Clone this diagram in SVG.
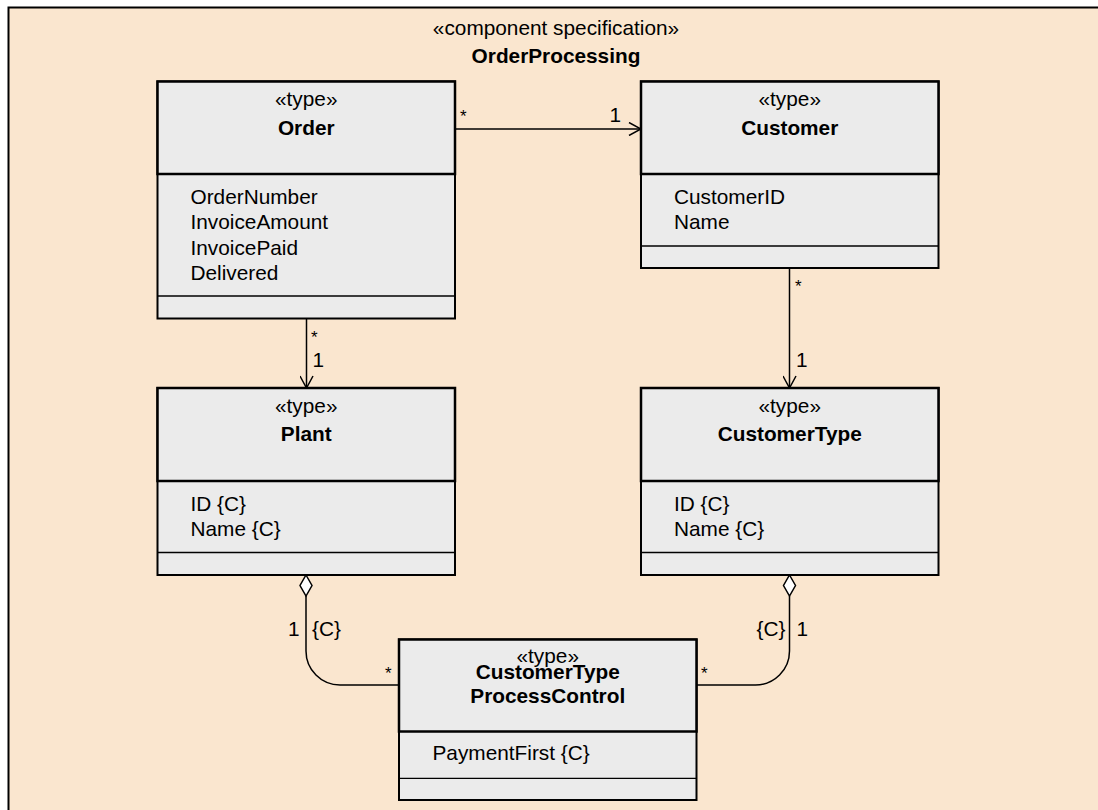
<svg xmlns="http://www.w3.org/2000/svg" width="1098" height="810" viewBox="0 0 1098 810">
  <style>
    text { font-family: "Liberation Sans", Arial, sans-serif; font-size: 20.8px; fill: #000; }
    .b { font-weight: bold; }
    .c { text-anchor: middle; }
    .e { text-anchor: end; }
    .star { font-size: 17px; }
    .body { fill: #EBEBEB; stroke: #000; stroke-width: 2; }
    .head { fill: #EBEBEB; stroke: #000; stroke-width: 2.5; }
    .sep { stroke: #000; stroke-width: 1.3; fill: none; }
    .conn { stroke: #000; stroke-width: 1.5; fill: none; }
    .dia { fill: #fff; stroke: #000; stroke-width: 1.5; }
  </style>
  <defs>
    <marker id="open" viewBox="0 0 14 14" markerWidth="14" markerHeight="14" refX="13" refY="7" orient="auto" markerUnits="userSpaceOnUse">
      <path d="M1,0.5 L13,7 L1,13.5" fill="none" stroke="#000" stroke-width="1.5"/>
    </marker>
  </defs>
  <rect x="0" y="0" width="1098" height="810" fill="#fff"/>
  <g id="frame">
    <rect x="8.5" y="7.5" width="1100" height="830" fill="#FAE6CF" stroke="#000" stroke-width="2"/>
    <text class="c" x="556" y="35">«component specification»</text>
    <text class="c b" x="556" y="63">OrderProcessing</text>
  </g>
  <g id="connectors">
    <line class="conn" x1="455" y1="129" x2="641" y2="129" marker-end="url(#open)"/>
    <text class="star" x="460" y="122">*</text>
    <text class="e" x="621" y="122">1</text>
    <line class="conn" x1="306.5" y1="318.5" x2="306.5" y2="388" marker-end="url(#open)"/>
    <text class="star" x="311" y="343">*</text>
    <text x="312.5" y="367">1</text>
    <line class="conn" x1="789.5" y1="268" x2="789.5" y2="388" marker-end="url(#open)"/>
    <text class="star" x="795" y="292">*</text>
    <text x="796" y="367">1</text>
    <path class="conn" d="M306,596 V651 A34,34 0 0 0 340,685 H399"/>
    <path class="dia" d="M306,575 L312,585.5 L306,596 L300,585.5 Z"/>
    <text class="e" x="299.5" y="636">1</text>
    <text x="312" y="636">{C}</text>
    <text class="star" x="385" y="679">*</text>
    <path class="conn" d="M789.5,596 V651 A34,34 0 0 1 755.5,685 H697"/>
    <path class="dia" d="M789.5,575 L795.5,585.5 L789.5,596 L783.5,585.5 Z"/>
    <text class="e" x="785.5" y="636">{C}</text>
    <text x="796.5" y="636">1</text>
    <text class="star" x="701" y="679">*</text>
  </g>
  <g id="Order">
    <rect class="body" x="157.5" y="81.5" width="297.5" height="237"/>
    <rect class="head" x="157.5" y="81.5" width="297.5" height="92.5"/>
    <line class="sep" x1="157.5" y1="296" x2="455" y2="296"/>
    <text class="c" x="306.25" y="105.5">«type»</text>
    <text class="c b" x="306.25" y="134.5">Order</text>
    <text x="190.5" y="204">OrderNumber</text>
    <text x="190.5" y="229">InvoiceAmount</text>
    <text x="190.5" y="254.5">InvoicePaid</text>
    <text x="190.5" y="279.5">Delivered</text>
  </g>
  <g id="Customer">
    <rect class="body" x="641" y="81.5" width="297.5" height="186.5"/>
    <rect class="head" x="641" y="81.5" width="297.5" height="92.5"/>
    <line class="sep" x1="641" y1="246" x2="938.5" y2="246"/>
    <text class="c" x="789.75" y="105.5">«type»</text>
    <text class="c b" x="789.75" y="134.5">Customer</text>
    <text x="674" y="204">CustomerID</text>
    <text x="674" y="228.5">Name</text>
  </g>
  <g id="Plant">
    <rect class="body" x="157.5" y="388" width="297.5" height="187"/>
    <rect class="head" x="157.5" y="388" width="297.5" height="93"/>
    <line class="sep" x1="157.5" y1="552.5" x2="455" y2="552.5"/>
    <text class="c" x="306.25" y="412.5">«type»</text>
    <text class="c b" x="306.25" y="441">Plant</text>
    <text x="190.5" y="510.5">ID {C}</text>
    <text x="190.5" y="535.5">Name {C}</text>
  </g>
  <g id="CustomerType">
    <rect class="body" x="641" y="388" width="297.5" height="187"/>
    <rect class="head" x="641" y="388" width="297.5" height="93"/>
    <line class="sep" x1="641" y1="552.5" x2="938.5" y2="552.5"/>
    <text class="c" x="789.75" y="412.5">«type»</text>
    <text class="c b" x="789.75" y="441">CustomerType</text>
    <text x="674" y="510.5">ID {C}</text>
    <text x="674" y="535.5">Name {C}</text>
  </g>
  <g id="CustomerTypeProcessControl">
    <rect class="body" x="399" y="639.5" width="297.5" height="160.5"/>
    <rect class="head" x="399" y="639.5" width="297.5" height="92"/>
    <line class="sep" x1="399" y1="778.3" x2="696.5" y2="778.3"/>
    <text class="c" x="547.75" y="663.3">«type»</text>
    <text class="c b" x="547.75" y="679">CustomerType</text>
    <text class="c b" x="547.75" y="703.3">ProcessControl</text>
    <text x="432.5" y="760">PaymentFirst {C}</text>
  </g>
</svg>
